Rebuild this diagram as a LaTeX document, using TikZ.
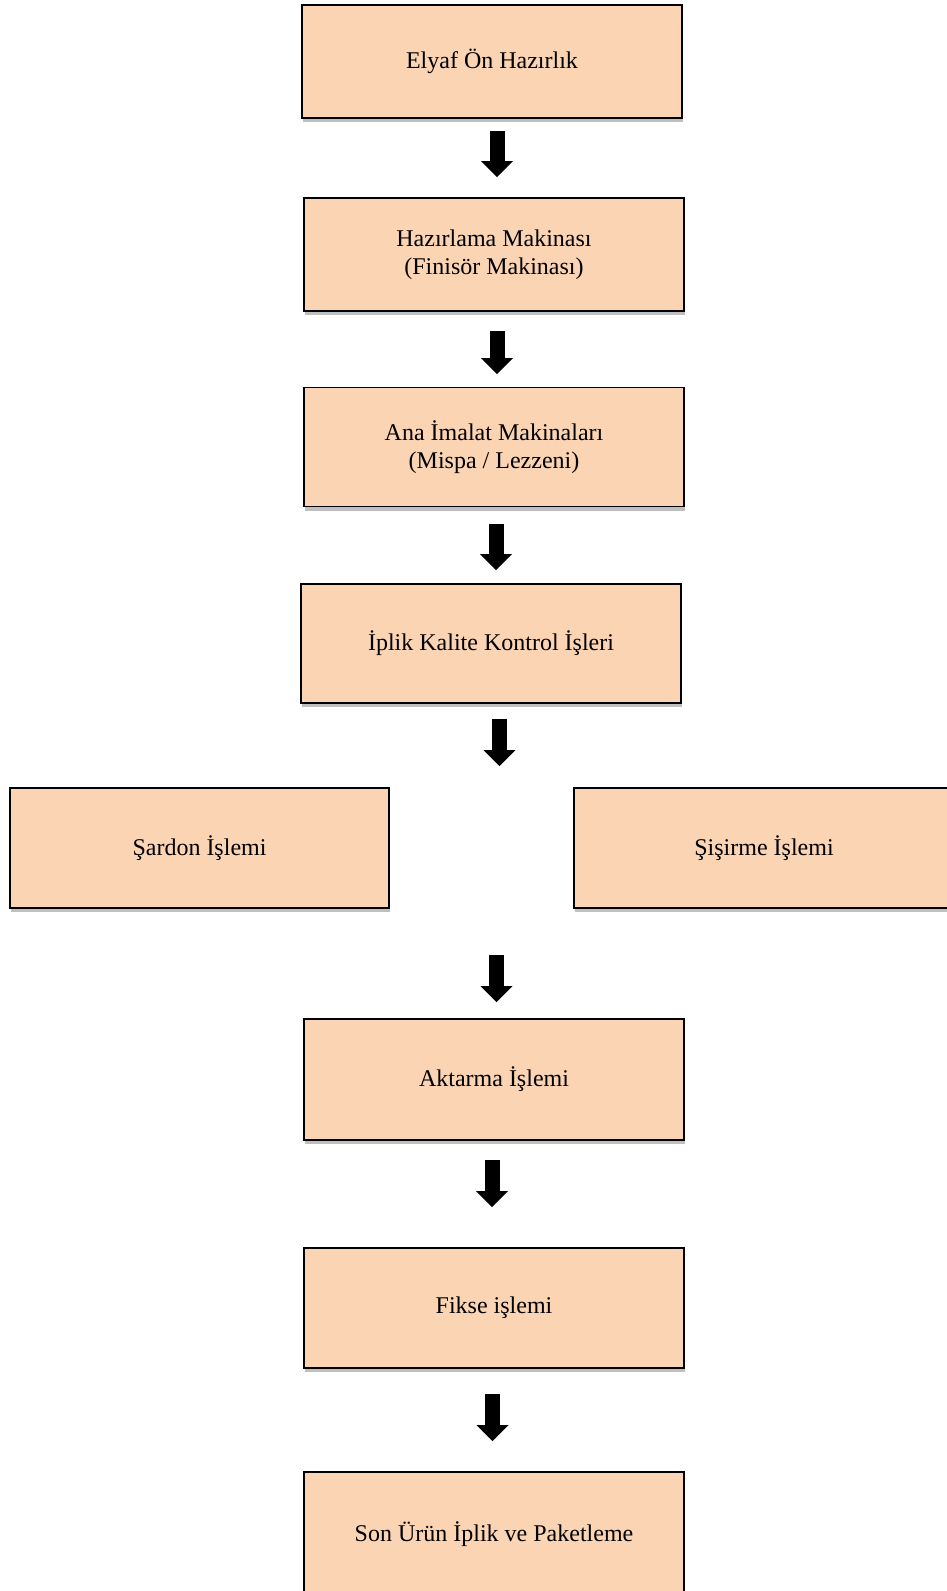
\documentclass[tikz,border=0pt]{standalone}
\usepackage{fontspec}
\setmainfont{Liberation Serif}
\usepackage{xcolor}
\usepackage{tikz}
\usetikzlibrary{arrows.meta,positioning,shadows}
\definecolor{boxpeach}{RGB}{251,212,180}
\tikzset{
  stepbox/.style={
    draw=black,line width=1.6pt,fill=boxpeach,align=center,
    minimum width=380pt,minimum height=113pt,inner sep=4pt,
    font=\fontsize{24}{28.5}\selectfont,
    drop shadow={shadow xshift=1pt,shadow yshift=-4pt,opacity=0.25,fill=black}
  },
  blockarrow/.style={
    line width=15pt,draw=black,
    -{Triangle[width=32pt,length=16pt,line width=0pt]}
  }
}
\begin{document}
\begin{tikzpicture}[x=1pt,y=-1pt]
  \useasboundingbox (0,0) rectangle (947,1591);
  \node[stepbox] (hazirlik) at (492,61.5) {Elyaf Ön Hazırlık};
  \node[stepbox] (finisor) at (494,254.5) {Hazırlama Makinası\\(Finisör Makinası)};
  \node[stepbox,minimum height=119pt] (imalat) at (494,447) {Ana İmalat Makinaları\\(Mispa / Lezzeni)};
  \node[stepbox,minimum height=119pt] (kontrol) at (491,643.5) {İplik Kalite Kontrol İşleri};
  \node[stepbox,minimum width=379pt,minimum height=120pt] (sardon) at (199.5,848) {Şardon İşlemi};
  \node[stepbox,minimum height=120pt] (sisirme) at (764,848) {Şişirme İşlemi};
  \node[stepbox,minimum height=121pt] (aktarma) at (494,1079.5) {Aktarma İşlemi};
  \node[stepbox,minimum height=120pt] (fikse) at (494,1308) {Fikse işlemi};
  \node[stepbox,minimum height=124pt] (paket) at (494,1534) {Son Ürün İplik ve Paketleme};
  \coordinate (ayrim) at (499.5,766);
  \coordinate (birlesim) at (496.5,955);

  \draw[blockarrow] ([xshift=5pt,yshift=-12pt]hazirlik.south) -- ([xshift=3pt,yshift=20pt]finisor.north);
  \draw[blockarrow] ([xshift=3pt,yshift=-19pt]finisor.south) -- ([xshift=3pt,yshift=12.5pt]imalat.north);
  \draw[blockarrow] ([xshift=2pt,yshift=-16.5pt]imalat.south) -- ([xshift=5pt,yshift=13pt]kontrol.north);
  \draw[blockarrow] ([xshift=8.5pt,yshift=-15pt]kontrol.south) -- (ayrim);
  \draw[blockarrow] (birlesim) -- ([xshift=2.5pt,yshift=16pt]aktarma.north);
  \draw[blockarrow] ([xshift=-2pt,yshift=-19pt]aktarma.south) -- ([xshift=-2pt,yshift=40pt]fikse.north);
  \draw[blockarrow] ([xshift=-1.5pt,yshift=-25pt]fikse.south) -- ([xshift=-1.5pt,yshift=30pt]paket.north);
\end{tikzpicture}
\end{document}
